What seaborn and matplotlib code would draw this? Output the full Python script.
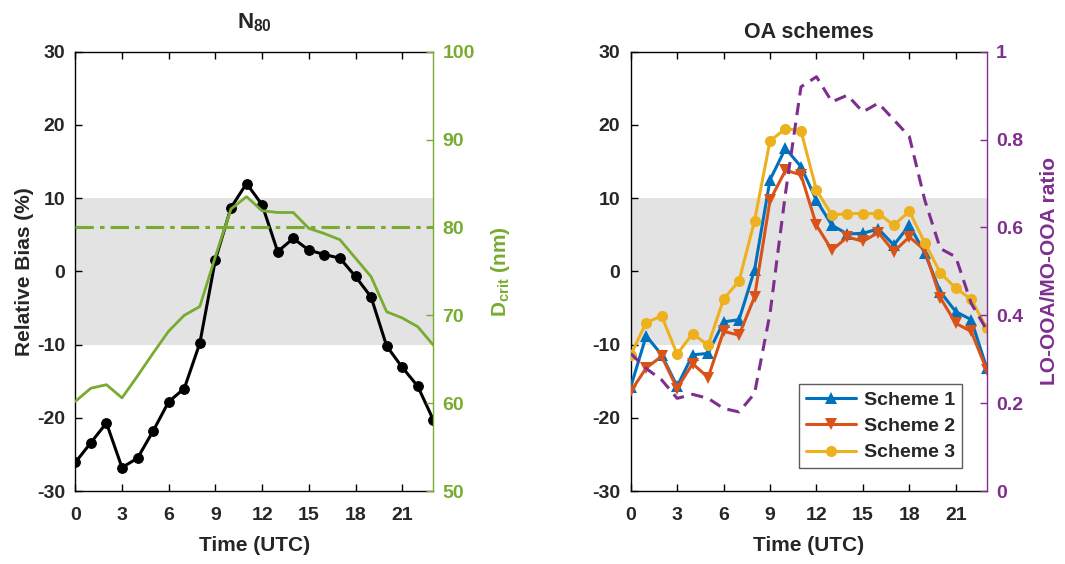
import matplotlib
matplotlib.use("Agg")
import matplotlib.pyplot as plt
import pandas as pd
import seaborn as sns

# ---- data -------------------------------------------------------------
hours = list(range(24))

n80_bias = [-26.1, -23.4, -20.7, -26.8, -25.5, -21.8, -17.8, -16.0, -9.8, 1.6,
            8.7, 12.0, 9.1, 2.7, 4.5, 2.9, 2.3, 1.8, -0.7, -3.5,
            -10.2, -13.1, -15.7, -20.3]
d_crit = [60.2, 61.7, 62.1, 60.6, 63.1, 65.7, 68.2, 70.0, 71.0, 76.7,
          82.1, 83.5, 81.9, 81.7, 81.7, 79.9, 79.3, 78.6, 76.5, 74.4,
          70.4, 69.7, 68.7, 66.6]
d_crit_ref = 80.0

scheme_names = ["Scheme 1", "Scheme 2", "Scheme 3"]
scheme1 = [-15.8, -8.8, -11.4, -15.7, -11.4, -11.2, -6.9, -6.6, 0.2, 12.5,
           16.8, 14.3, 9.7, 6.3, 5.1, 5.2, 5.8, 3.6, 6.3, 2.5,
           -2.8, -5.5, -6.6, -13.2]
scheme2 = [-16.4, -13.2, -11.6, -16.0, -12.6, -14.5, -8.2, -8.7, -3.5, 9.7,
           13.8, 13.2, 6.3, 2.9, 4.7, 4.1, 5.3, 2.7, 4.7, 2.9,
           -3.6, -7.1, -8.2, -13.5]
scheme3 = [-11.4, -7.0, -6.1, -11.3, -8.5, -10.1, -3.8, -1.3, 6.9, 17.8,
           19.5, 19.2, 11.1, 7.7, 7.9, 7.9, 7.9, 6.3, 8.2, 3.9,
           -0.2, -2.3, -3.8, -7.8]
ooa_ratio = [0.313, 0.279, 0.253, 0.211, 0.220, 0.211, 0.188, 0.180, 0.222, 0.404,
             0.678, 0.920, 0.943, 0.886, 0.901, 0.863, 0.883, 0.845, 0.807, 0.662,
             0.552, 0.533, 0.427, 0.367]

hour_ticks = [0, 3, 6, 9, 12, 15, 18, 21]
bias_ticks = [-30, -20, -10, 0, 10, 20, 30]
dcrit_ticks = [50, 60, 70, 80, 90, 100]
ratio_ticks = [0, 0.2, 0.4, 0.6, 0.8, 1]
ratio_labels = ["0", "0.2", "0.4", "0.6", "0.8", "1"]

# ---- style ------------------------------------------------------------
sns.set_style("white")
plt.rcParams["font.family"] = ["Liberation Sans", "DejaVu Sans"]
plt.rcParams.update({
    "font.weight": "bold",
    "axes.labelweight": "bold",
    "axes.titleweight": "bold",
    "axes.unicode_minus": False,
    "mathtext.fontset": "custom",
    "mathtext.rm": "Liberation Sans:bold",
    "mathtext.it": "Liberation Sans:bold",
    "mathtext.bf": "Liberation Sans:bold",
    "mathtext.default": "rm",
    "xtick.direction": "in",
    "ytick.direction": "in",
    "axes.linewidth": 1.0,
})

BLACK = "#000000"
GREEN = "#77AC30"
PURPLE = "#7E2F8E"
BAND = "#E3E3E3"
SCHEME_COLORS = ["#0072BD", "#D95319", "#EDB120"]
SCHEME_MARKERS = ["^", "v", "o"]

TICK_FS = 14
LABEL_FS = 15
TITLE_FS = 16

fig = plt.figure(figsize=(10.65, 5.64), dpi=100)
ax1 = fig.add_axes([0.0707, 0.1294, 0.3362, 0.7789])
ax2 = fig.add_axes([0.5922, 0.1294, 0.3343, 0.7789])


def style_primary(ax):
    ax.set_xlim(0, 23)
    ax.set_ylim(-30, 30)
    ax.set_xticks(hour_ticks)
    ax.set_yticks(bias_ticks)
    ax.tick_params(axis="both", labelsize=TICK_FS, length=5, width=1,
                   top=True, bottom=True, left=True, right=False, color="black")
    ax.tick_params(axis="x", pad=11.5)
    ax.tick_params(axis="y", pad=7.5)
    for s in ("left", "bottom", "top"):
        ax.spines[s].set_color("black")
    ax.spines["right"].set_visible(False)
    ax.set_xlabel("Time (UTC)", fontsize=LABEL_FS, labelpad=9)
    ax.axhspan(-10, 10, color=BAND, lw=0, zorder=0)


def style_twin(tw, color, ticks, label, labelpad):
    tw.set_yticks(ticks)
    tw.tick_params(axis="y", labelsize=TICK_FS, length=5, width=1,
                   colors=color, direction="in", pad=6.5)
    for s in ("left", "bottom", "top"):
        tw.spines[s].set_visible(False)
    tw.spines["right"].set_color(color)
    tw.set_ylabel(label, fontsize=LABEL_FS, color=color, labelpad=labelpad)


# ---- left panel: N80 bias and critical diameter ----------------------
style_primary(ax1)
sns.lineplot(x=hours, y=n80_bias, ax=ax1, color=BLACK, lw=2.2,
             marker="o", markersize=7, markeredgecolor=BLACK, zorder=3)
ax1.set_ylabel("Relative Bias (%)", fontsize=LABEL_FS, labelpad=2)
ax1.set_title("N$_{80}$", fontsize=TITLE_FS, pad=17)

tw1 = ax1.twinx()
sns.lineplot(x=hours, y=d_crit, ax=tw1, color=GREEN, lw=2.0)
tw1.axhline(d_crit_ref, color=GREEN, lw=2.2, ls=(0, (6, 2, 1.5, 2)))
tw1.set_ylim(50, 100)
style_twin(tw1, GREEN, dcrit_ticks, "D$_{crit}$ (nm)", 10)
tw1.set_xlim(0, 23)

# ---- right panel: OA schemes and LO-OOA/MO-OOA ratio -----------------
style_primary(ax2)
schemes = pd.DataFrame({
    "hour": hours * 3,
    "bias": scheme1 + scheme2 + scheme3,
    "scheme": [n for n in scheme_names for _ in hours],
})
sns.lineplot(data=schemes, x="hour", y="bias", hue="scheme", style="scheme",
             palette=SCHEME_COLORS, markers=SCHEME_MARKERS, dashes=False,
             lw=2.2, markersize=8, markeredgewidth=0, ax=ax2, zorder=3)
ax2.set_ylabel("")
ax2.set_title("OA schemes", fontsize=TITLE_FS - 0.5, pad=10)
leg = ax2.legend(loc="lower right", bbox_to_anchor=(0.931, 0.052),
                 borderaxespad=0, fontsize=14, frameon=True, fancybox=False,
                 edgecolor="#333333", handlelength=2.6, borderpad=0.35,
                 labelspacing=0.45, handletextpad=0.4)
leg.get_frame().set_linewidth(1.0)
for t in leg.get_texts():
    t.set_fontweight("bold")

tw2 = ax2.twinx()
sns.lineplot(x=hours, y=ooa_ratio, ax=tw2, color=PURPLE, lw=2.2,
             linestyle=(0, (4, 2.5)))
tw2.set_ylim(0, 1)
style_twin(tw2, PURPLE, ratio_ticks, "LO-OOA/MO-OOA ratio", 12)
tw2.set_yticklabels(ratio_labels)
tw2.set_xlim(0, 23)

fig.savefig("out.png", dpi=100)
